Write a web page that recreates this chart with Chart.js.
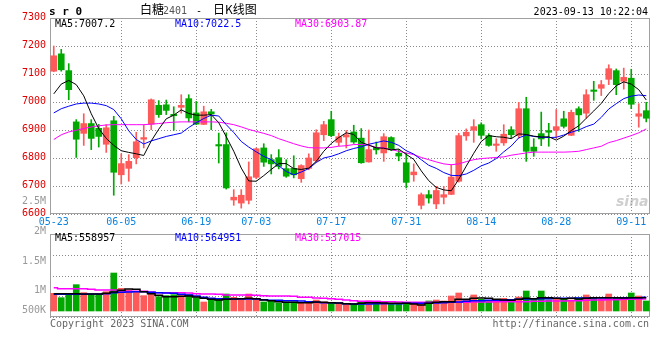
<!DOCTYPE html>
<html><head><meta charset="utf-8">
<script src="https://cdn.jsdelivr.net/npm/chart.js@4.4.0/dist/chart.umd.min.js"></script>
<style>
html,body{margin:0;padding:0;background:#fff;}
#wrap{position:relative;width:660px;height:360px;overflow:hidden;font-family:"DejaVu Sans Mono",monospace;font-size:10px;line-height:10px;}
.t{position:absolute;white-space:pre;}
.r{text-align:right;}
canvas{position:absolute;left:0;}
#main{top:0px;}
#vol{top:228px;}
</style></head><body>
<div id="wrap">
<canvas id="main" width="660" height="230"></canvas>
<canvas id="vol" width="660" height="92"></canvas>

<div class="t" style="left:49px;top:6px;font-weight:bold;font-size:11px;line-height:11px;color:#000">s r 0</div>
<div class="t" style="left:140px;top:3px;font-family:'Noto Sans CJK SC';font-size:12px;line-height:12px;color:#000">白糖</div>
<div class="t" style="left:163px;top:6px;color:#555">2401</div>
<div class="t" style="left:196px;top:6px;color:#000">-</div>
<div class="t" style="left:213px;top:3px;font-family:'Noto Sans CJK SC';font-size:12px;line-height:12px;color:#000">日K线图</div>
<div class="t r" style="right:12px;top:7px;color:#000">2023-09-13 10:22:04</div>

<div class="t" id="lg5" style="left:55px;top:19px;color:#000"></div>
<div class="t" id="lg10" style="left:175px;top:19px;color:#0000ff"></div>
<div class="t" id="lg30" style="left:295px;top:19px;color:#ff00ff"></div>

<div class="t" id="vlg5" style="left:55px;top:233px;color:#000"></div>
<div class="t" id="vlg10" style="left:175px;top:233px;color:#0000ff"></div>
<div class="t" id="vlg30" style="left:295px;top:233px;color:#ff00ff"></div>

<div class="t r" style="right:614px;top:196px;color:#999">2.5M</div>
<div class="t r" style="right:614px;top:226px;color:#999">2M</div>
<div class="t r" style="right:614px;top:256px;color:#999">1.5M</div>
<div class="t r" style="right:614px;top:285px;color:#999">1M</div>
<div class="t r" style="right:614px;top:305px;color:#999">500K</div>

<div class="t" style="left:50px;top:319px;color:#666">Copyright 2023 SINA.COM</div>
<div class="t r" style="right:11px;top:319px;color:#666">http://finance.sina.com.cn</div>
<div class="t" style="left:616px;top:194px;font-family:'DejaVu Sans';font-style:italic;font-weight:bold;font-size:14px;line-height:14px;color:rgba(160,160,160,0.5)">sina</div>
</div>
<script>
const DATES = ['05-23','05-24','05-25','05-26','05-29','05-30','05-31',
'06-01','06-02','06-05','06-06','06-07','06-08','06-09','06-12','06-13','06-14','06-15','06-16','06-19','06-20','06-21','06-26','06-27','06-28','06-29','06-30',
'07-03','07-04','07-05','07-06','07-07','07-10','07-11','07-12','07-13','07-14','07-17','07-18','07-19','07-20','07-21','07-24','07-25','07-26','07-27','07-28','07-31',
'08-01','08-02','08-03','08-04','08-07','08-08','08-09','08-10','08-11','08-14','08-15','08-16','08-17','08-18','08-21','08-22','08-23','08-24','08-25','08-28','08-29','08-30','08-31',
'09-01','09-04','09-05','09-06','09-07','09-08','09-11','09-12','09-13'];
const TICK_LABELS = ['05-23','06-05','06-19','07-03','07-17','07-31','08-14','08-28','09-11'];

const OPEN = [7110,7172,7112,6929,6888,6923,6906,6849,6933,6740, 6763,6801,6867,6921,6988,6990,6956,6981,7012,6961,
 6920,6965,6848,6848,6650,6639,6649,6731,6836,6794, 6801,6762,6763,6726,6763,6790,6883,6937,6856,6875,
 6893,6871,6786,6838,6818,6873,6817,6783,6740,6631, 6669,6636,6660,6670,6717,6879,6899,6919,6880,6845,
 6854,6901,6880,6976,6839,6887,6898,6899,6940,6881, 6976,6960,7043,7049,7081,7112,7074,7085,6949,6969];
const HIGH = [7200,7188,7137,6937,6958,6937,6920,6919,6949,6815, 6812,6892,6919,7011,7005,7007,6983,7026,7026,7002,
 6985,6974,6889,6890,6687,6687,6786,6836,6851,6812, 6830,6794,6808,6776,6815,6901,6931,6967,6889,6898,
 6917,6905,6900,6857,6887,6876,6830,6818,6779,6675, 6684,6699,6699,6776,6888,6904,6937,6926,6887,6869,
 6919,6912,6999,7017,6869,6964,6924,6973,6967,6971, 6983,7044,7074,7077,7133,7118,7121,7117,6994,6999];
const LOW = [7108,7110,7008,6802,6845,6830,6839,6820,6667,6707, 6717,6779,6836,6901,6945,6955,6899,6960,6929,6919,
 6919,6901,6782,6689,6631,6621,6636,6726,6770,6743, 6761,6731,6729,6713,6758,6785,6862,6876,6844,6836,
 6852,6781,6785,6814,6788,6826,6790,6693,6717,6618, 6639,6619,6636,6669,6714,6863,6856,6868,6842,6824,
 6845,6871,6871,6788,6806,6844,6842,6871,6907,6880, 6895,6943,7006,7023,7062,7026,7046,6976,6910,6929];
const CLOSE = [7165,7115,7044,6867,6923,6870,6877,6908,6749,6780, 6788,6858,6873,7008,6955,6970,6951,6988,6943,6921,
 6965,6957,6843,6693,6660,6667,6733,6833,6785,6779, 6770,6735,6740,6773,6800,6890,6919,6880,6876,6883,
 6857,6783,6830,6829,6876,6829,6807,6713,6750,6669, 6657,6684,6669,6732,6880,6892,6912,6881,6845,6850,
 6885,6883,6976,6824,6824,6868,6892,6912,6913,6963, 6954,7026,7038,7062,7119,7062,7088,6992,6958,6942];

const MA5 = [7029,7064,7077,7062,7022,6958,6905,6870,6845,6826, 6820,6815,6809,6861,6903,6940,6953,6972,6959,6953,
 6953,6955,6926,6876,6824,6764,6718,6717,6737,6759, 6780,6780,6762,6759,6764,6788,6824,6852,6873,6890,
 6884,6856,6846,6836,6835,6829,6832,6813,6795,6754, 6719,6695,6686,6683,6724,6771,6817,6859,6880,6876,
 6874,6869,6886,6884,6878,6875,6876,6864,6878,6898, 6915,6942,6968,6995,7030,7058,7072,7064,7044,7007.2];
const MA10 = [6961,6976,6985,6993,6996,6996,6993,6987,6973,6940, 6897,6866,6850,6861,6869,6877,6883,6889,6909,6926,
 6941,6953,6950,6919,6891,6859,6839,6822,6806,6794, 6772,6752,6740,6750,6762,6784,6800,6806,6815,6826,
 6834,6840,6849,6855,6861,6856,6845,6826,6814,6794, 6774,6763,6748,6738,6737,6743,6756,6772,6782,6798,
 6822,6843,6872,6882,6877,6874,6873,6874,6882,6892, 6900,6912,6921,6945,6975,6994,7012,7021,7025,7022.5];
const MA30 = [6866,6883,6893,6899,6905,6911,6915,6918,6919,6919, 6919,6919,6919,6921,6923,6926,6928,6929,6929,6929,
 6929,6929,6928,6924,6919,6911,6902,6895,6888,6880, 6869,6860,6851,6843,6837,6836,6836,6838,6842,6844,
 6848,6848,6846,6838,6836,6830,6824,6818,6812,6802, 6794,6786,6779,6776,6779,6787,6794,6798,6800,6802,
 6804,6810,6814,6818,6821,6821,6821,6821,6821,6822, 6824,6830,6836,6842,6855,6862,6871,6880,6890,6903.87];

const VOLUME = [631000,559000,604000,776000,643000,615000,615000,659000,970000,715000,
 687000,665000,593000,643000,576000,593000,609000,593000,609000,559000,
 487000,537000,537000,620000,565000,537000,620000,543000,487000,509000,
 470000,487000,487000,465000,481000,520000,487000,465000,465000,448000,
 448000,493000,504000,476000,493000,454000,454000,481000,459000,459000,
 504000,520000,504000,587000,637000,531000,604000,531000,515000,487000,
 548000,481000,570000,670000,531000,670000,520000,543000,548000,520000,
 559000,604000,548000,531000,620000,559000,543000,637000,587000,504000];
const VMA5 = [626000,626000,626000,626000,620000,620000,620000,631000,654000,681000,
 704000,698000,659000,626000,598000,576000,576000,581000,587000,570000,
 548000,531000,520000,531000,537000,543000,548000,543000,520000,509000,
 493000,481000,481000,476000,476000,487000,481000,476000,470000,459000,
 454000,465000,476000,476000,470000,465000,465000,465000,454000,437000,
 465000,481000,493000,493000,531000,531000,548000,554000,548000,531000,
 520000,515000,531000,548000,543000,559000,559000,548000,543000,548000,
 537000,548000,559000,559000,559000,559000,554000,559000,559000,558957];
const VMA10 = [615000,615000,615000,615000,615000,620000,620000,626000,643000,648000,
 654000,659000,659000,648000,643000,637000,631000,615000,604000,587000,
 565000,548000,543000,543000,537000,537000,537000,537000,526000,515000,
 515000,509000,509000,504000,493000,481000,476000,476000,470000,459000,
 454000,454000,454000,459000,459000,459000,459000,465000,465000,465000,
 465000,470000,476000,481000,487000,498000,509000,509000,515000,515000,
 520000,526000,531000,537000,543000,543000,543000,548000,548000,548000,
 554000,554000,554000,554000,559000,559000,559000,559000,559000,564951];
const VMA30 = [726000,709000,709000,709000,709000,698000,687000,687000,687000,676000,
 665000,665000,665000,654000,643000,643000,643000,643000,637000,626000,
 620000,620000,615000,604000,604000,604000,604000,598000,593000,587000,
 587000,587000,581000,565000,565000,554000,548000,543000,531000,520000,
 509000,498000,498000,498000,493000,493000,487000,481000,481000,481000,
 481000,481000,481000,481000,481000,481000,487000,487000,487000,493000,
 493000,493000,493000,493000,498000,498000,504000,504000,504000,509000,
 509000,515000,520000,520000,526000,526000,531000,531000,537000,537015];

const PRICE_MIN = 6600, PRICE_MAX = 7300, PRICE_STEP = 100;
const VOL_AXIS_MIN = 237000, VOL_AXIS_MAX = 1620000, VOL_BASE = 337000;

const UP = '#ff5a5a', DOWN = '#00a800', GRID = '#8a8a8a', FRAME = '#a0a0a0';
const C_MA5 = '#000000', C_MA10 = '#0000ff', C_MA30 = '#ff00ff';

const last = a => a[a.length - 1];
document.getElementById('lg5').textContent = 'MA5:' + last(MA5);
document.getElementById('lg10').textContent = 'MA10:' + last(MA10);
document.getElementById('lg30').textContent = 'MA30:' + last(MA30);
document.getElementById('vlg5').textContent = 'MA5:' + last(VMA5);
document.getElementById('vlg10').textContent = 'MA10:' + last(VMA10);
document.getElementById('vlg30').textContent = 'MA30:' + last(VMA30);

Chart.defaults.font.family = "'DejaVu Sans Mono', monospace";
Chart.defaults.font.size = 10;

const colors = DATES.map((d, i) => CLOSE[i] >= OPEN[i] ? UP : DOWN);

// Dotted grid (1px dot every 3px) at the scales' tick positions, plus plot frame.
const framePlugin = {
  id: 'frame',
  beforeDatasetsDraw(chart) {
    const {ctx, chartArea: a, scales} = chart;
    const L = Math.round(a.left), R = Math.round(a.right), T = Math.round(a.top), B = Math.round(a.bottom);
    ctx.save();
    ctx.fillStyle = GRID;
    const xs = scales.x, ys = scales.y;
    xs.ticks.forEach((t, i) => {
      if (t.value === 0) return;
      const px = Math.round(xs.getPixelForTick(i));
      for (let y = T; y < B; y += 3) ctx.fillRect(px, y, 1, 1);
    });
    ys.ticks.forEach((t, i) => {
      const py = Math.round(ys.getPixelForTick(i));
      for (let x = L; x < R; x += 3) ctx.fillRect(x, py, 1, 1);
    });
    ctx.lineWidth = 1;
    ctx.strokeStyle = FRAME;
    ctx.strokeRect(L + 0.5, T + 0.5, R - L - 1, B - T - 1);
    ctx.restore();
  }
};

function xScale(showLabels) {
  return {
    type: 'category',
    offset: true,
    afterBuildTicks: ax => { ax.ticks = ax.ticks.filter(t => TICK_LABELS.includes(DATES[t.value])); },
    grid: { display: false, drawTicks: false },
    border: { display: false },
    ticks: { display: showLabels, autoSkip: false, maxRotation: 0, minRotation: 0, color: '#0a84e0', padding: 2 },
    afterFit: ax => { ax.height = showLabels ? 16 : 0; }
  };
}

function line(data, color, width, stepped) {
  return { type: 'line', data, borderColor: color, borderWidth: width, pointRadius: 0, tension: 0, fill: false, order: 0, stepped: stepped || false };
}

const common = {
  responsive: false, animation: false, events: [], devicePixelRatio: 1,
  plugins: { legend: { display: false }, tooltip: { enabled: false } }
};

new Chart(document.getElementById('main'), {
  type: 'bar',
  data: {
    labels: DATES,
    datasets: [
      line(MA5, C_MA5, 1),
      line(MA10, C_MA10, 1),
      line(MA30, C_MA30, 1),
      { type: 'bar', data: DATES.map((d, i) => [LOW[i], HIGH[i]]), backgroundColor: colors, borderWidth: 0, barThickness: 1, grouped: false, order: 2 },
      { type: 'bar', data: DATES.map((d, i) => [OPEN[i], CLOSE[i]]), backgroundColor: colors, borderWidth: 0, barThickness: 6, minBarLength: 1, grouped: false, order: 1 }
    ]
  },
  options: Object.assign({}, common, {
    layout: { padding: { top: 18, right: 10, bottom: 0, left: 0 } },
    scales: {
      x: xScale(true),
      y: {
        min: PRICE_MIN, max: PRICE_MAX,
        ticks: { stepSize: PRICE_STEP, color: '#e00000', padding: 4, labelOffset: -1, callback: v => String(v) },
        grid: { display: false, drawTicks: false },
        border: { display: false },
        afterFit: ax => { ax.width = 50; }
      }
    }
  }),
  plugins: [framePlugin]
});

new Chart(document.getElementById('vol'), {
  type: 'bar',
  data: {
    labels: DATES,
    datasets: [
      line(VMA5, C_MA5, 1.5, 'middle'),
      line(VMA10, C_MA10, 1.5, 'middle'),
      line(VMA30, C_MA30, 1.5, 'middle'),
      { type: 'bar', data: VOLUME.map(v => [VOL_BASE, v]), backgroundColor: colors, borderWidth: 0, barThickness: 6, grouped: false, order: 1 }
    ]
  },
  options: Object.assign({}, common, {
    layout: { padding: { top: 6, right: 10, bottom: 3, left: 0 } },
    scales: {
      x: xScale(false),
      y: {
        min: VOL_AXIS_MIN, max: VOL_AXIS_MAX,
        ticks: { display: false, count: 5 },
        grid: { display: false, drawTicks: false },
        border: { display: false },
        afterFit: ax => { ax.width = 50; }
      }
    }
  }),
  plugins: [framePlugin]
});
</script>
</body></html>
